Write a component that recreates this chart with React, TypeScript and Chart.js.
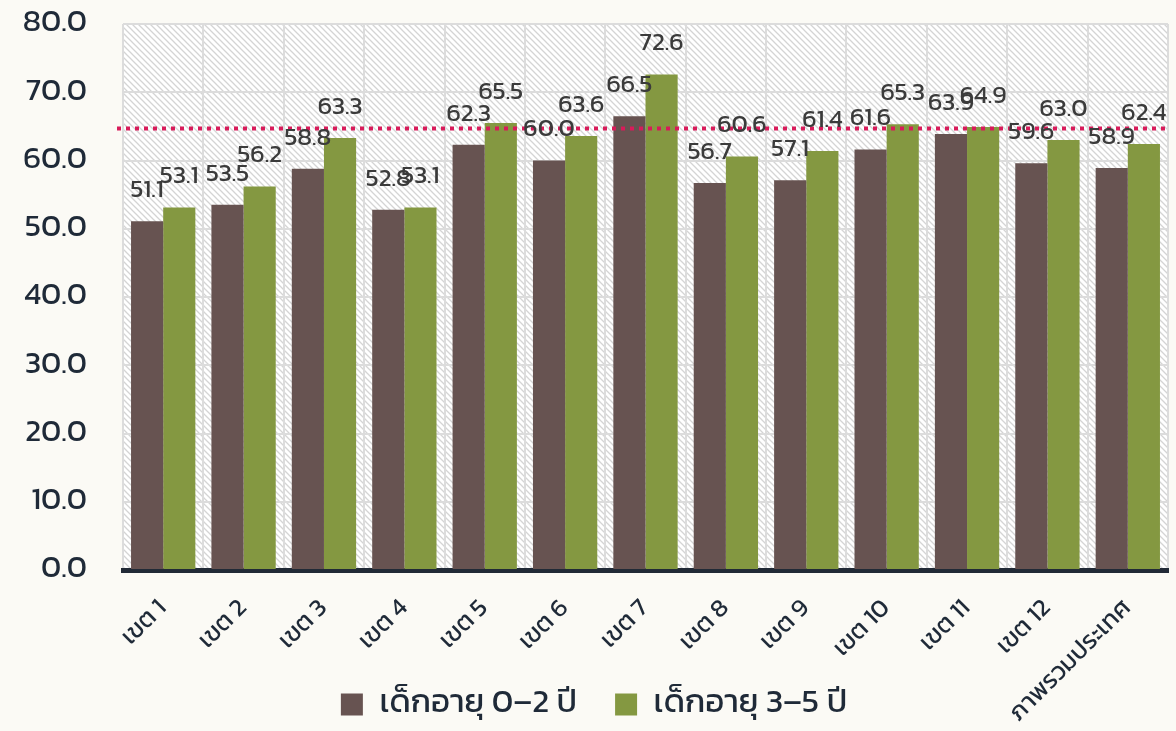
import React, { useEffect, useRef } from "react";
import { Chart, registerables } from "chart.js";

Chart.register(...registerables);

const categories = [
  "เขต 1", "เขต 2", "เขต 3", "เขต 4", "เขต 5", "เขต 6", "เขต 7",
  "เขต 8", "เขต 9", "เขต 10", "เขต 11", "เขต 12", "ภาพรวมประเทศ",
];
const seriesNames = ["เด็กอายุ 0–2 ปี", "เด็กอายุ 3–5 ปี"];
const age0to2 = [51.1, 53.5, 58.8, 52.8, 62.3, 60.0, 66.5, 56.7, 57.1, 61.6, 63.9, 59.6, 58.9];
const age3to5 = [53.1, 56.2, 63.3, 53.1, 65.5, 63.6, 72.6, 60.6, 61.4, 65.3, 64.9, 63.0, 62.4];
const yMin = 0;
const yMax = 80;
const yStep = 10;
const targetValue = 64.7;

const FONT = "Kanit, Prompt, 'Noto Sans Thai', 'Noto Sans', sans-serif";
const TEXT_DARK = "#1f2a38";
const BROWN = "#675351";
const GREEN = "#849841";

function makePattern(ctx: CanvasRenderingContext2D) {
  const c = document.createElement("canvas");
  const s = 6;
  c.width = s;
  c.height = s;
  const p = c.getContext("2d")!;
  p.fillStyle = "#ffffff";
  p.fillRect(0, 0, s, s);
  p.strokeStyle = "#d4d4d4";
  p.lineWidth = 1.3;
  p.beginPath();
  p.moveTo(-1, -1);
  p.lineTo(s + 1, s + 1);
  p.moveTo(-1, s - 1);
  p.lineTo(1, s + 1);
  p.moveTo(s - 1, -1);
  p.lineTo(s + 1, 1);
  p.stroke();
  return ctx.createPattern(c, "repeat");
}

const bgPlugin = {
  id: "bgPlugin",
  afterLayout(chart: any) {
    // let the rotated category labels run down past the legend, as in the reference
    chart.scales.x.bottom = chart.height;
    if (chart.legend) {
      chart.legend.left += 10;
      chart.legend.right += 10;
    }
  },
  beforeDraw(chart: any) {
    const { ctx, chartArea, width, height } = chart;
    ctx.save();
    ctx.fillStyle = "#fbfaf5";
    ctx.fillRect(0, 0, width, height);
    const pat = makePattern(ctx);
    if (pat) {
      ctx.fillStyle = pat;
      ctx.fillRect(chartArea.left, chartArea.top, chartArea.right - chartArea.left, chartArea.bottom - chartArea.top);
    }
    ctx.restore();
  },
};

const overlayPlugin = {
  id: "overlayPlugin",
  afterDatasetsDraw(chart: any) {
    const { ctx, chartArea } = chart;
    const y = chart.scales.y.getPixelForValue(targetValue);
    ctx.save();
    ctx.strokeStyle = "#d81b5a";
    ctx.lineWidth = 4;
    ctx.setLineDash([4, 5]);
    ctx.beginPath();
    ctx.moveTo(chartArea.left - 6, y);
    ctx.lineTo(chartArea.right, y);
    ctx.stroke();
    ctx.setLineDash([]);
    ctx.fillStyle = "#3b3b3b";
    ctx.font = `25px ${FONT}`;
    ctx.textAlign = "center";
    ctx.textBaseline = "middle";
    chart.data.datasets.forEach((ds: any, i: number) => {
      const meta = chart.getDatasetMeta(i);
      meta.data.forEach((bar: any, j: number) => {
        ctx.fillText(Number(ds.data[j]).toFixed(1), bar.x, bar.y - 30);
      });
    });
    ctx.restore();
  },
};

export default function App() {
  const ref = useRef<HTMLCanvasElement | null>(null);
  useEffect(() => {
    document.body.style.margin = "0";
    document.body.style.background = "#fbfaf5";
    const canvas = ref.current!;
    const chart = new Chart(canvas, {
      type: "bar",
      data: {
        labels: categories,
        datasets: [
          { label: seriesNames[0], data: age0to2, backgroundColor: BROWN, borderWidth: 0 },
          { label: seriesNames[1], data: age3to5, backgroundColor: GREEN, borderWidth: 0 },
        ],
      },
      options: {
        animation: false,
        responsive: false,
        layout: { padding: { left: 0, right: 8, top: 24, bottom: 0 } },
        datasets: { bar: { categoryPercentage: 0.8, barPercentage: 1.0 } },
        plugins: {
          tooltip: { enabled: false },
          legend: {
            position: "bottom",
            labels: {
              boxWidth: 22,
              boxHeight: 22,
              padding: 38,
              color: TEXT_DARK,
              font: { family: FONT, size: 33 },
            },
          },
        },
        scales: {
          x: {
            grid: { color: "#dcdcdc", lineWidth: 2, offset: true, drawTicks: false },
            border: { display: true, color: "#212a36", width: 5 },
            ticks: {
              color: TEXT_DARK,
              font: { family: FONT, size: 25 },
              maxRotation: 45,
              minRotation: 45,
              padding: 24,
            },
            afterFit(scale: any) {
              scale.height = 80;
              scale.paddingLeft = 0;
              scale.paddingRight = 0;
            },
          },
          y: {
            min: yMin,
            max: yMax,
            grid: { color: "#dcdcdc", lineWidth: 2, drawTicks: false },
            border: { display: false },
            ticks: {
              stepSize: yStep,
              color: TEXT_DARK,
              padding: 36,
              font: { family: FONT, size: 31, weight: 400 },
              callback: (v: any) => Number(v).toFixed(1),
            },
            afterFit(scale: any) {
              scale.width = 123;
              scale.paddingTop = 0;
              scale.paddingBottom = 0;
            },
          },
        },
      },
      plugins: [bgPlugin, overlayPlugin],
    });
    return () => chart.destroy();
  }, []);
  return <canvas ref={ref} width={1176} height={731} style={{ display: "block" }} />;
}
